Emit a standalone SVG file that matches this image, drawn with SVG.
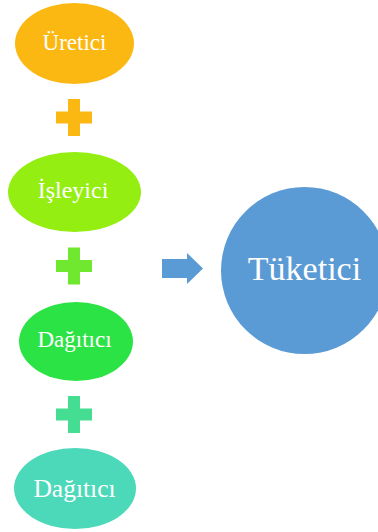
<svg xmlns="http://www.w3.org/2000/svg" width="378" height="532" viewBox="0 0 378 532">
<style>
text{font-family:"Liberation Serif","Times New Roman",serif;fill:#fff;text-anchor:middle}
</style>
<defs>
<path id="plus" d="M-6,-18.5H6V-6H18V6H6V18.5H-6V6H-18V-6H-6Z"/>
</defs>
<rect width="378" height="532" fill="#fff"/>
<g id="node-uretici">
<ellipse cx="74.5" cy="43.5" rx="59.5" ry="40.5" fill="#FBB813"/>
<text x="74.5" y="50" font-size="23">Üretici</text>
</g>
<g id="node-isleyici">
<ellipse cx="74.5" cy="192" rx="66.5" ry="40" fill="#94EE11"/>
<text x="73" y="198" font-size="24">İşleyici</text>
</g>
<g id="node-dagitici1">
<ellipse cx="76" cy="341.5" rx="57" ry="39.5" fill="#2CE345"/>
<text x="74.5" y="347" font-size="23">Dağıtıcı</text>
</g>
<g id="node-dagitici2">
<ellipse cx="75" cy="488.5" rx="61" ry="40.5" fill="#4CD9BA"/>
<text x="74.5" y="497" font-size="25.5">Dağıtıcı</text>
</g>
<g id="node-tuketici">
<circle cx="304.5" cy="270.5" r="83.5" fill="#5B9BD5"/>
<text x="304.5" y="280" font-size="34">Tüketici</text>
</g>
<g id="connectors">
<use href="#plus" x="74" y="117.5" fill="#FBB813"/>
<use href="#plus" x="74" y="266" fill="#70E82F"/>
<use href="#plus" x="74" y="414.5" fill="#45DD92"/>
<path d="M162,259H187V253L203,268.5L187,284V278H162Z" fill="#5B9BD5"/>
</g>
</svg>
